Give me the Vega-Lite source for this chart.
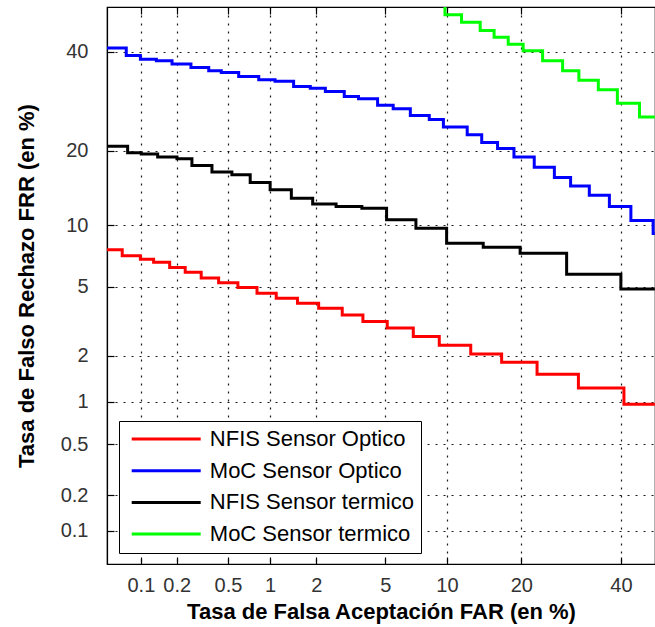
{
 "$schema": "https://vega.github.io/schema/vega-lite/v6.json",
 "autosize": {"type": "none"},
 "padding": {"left": 107, "top": 7, "right": 0, "bottom": 63},
 "width": 548,
 "height": 557,
 "data": {"values": [
  {"series": "NFIS Sensor Optico", "FAR": 0.05, "FRR": 7.69},
  {"series": "NFIS Sensor Optico", "FAR": 0.0686, "FRR": 7.19},
  {"series": "NFIS Sensor Optico", "FAR": 0.099, "FRR": 6.92},
  {"series": "NFIS Sensor Optico", "FAR": 0.1285, "FRR": 6.69},
  {"series": "NFIS Sensor Optico", "FAR": 0.175, "FRR": 6.29},
  {"series": "NFIS Sensor Optico", "FAR": 0.234, "FRR": 5.95},
  {"series": "NFIS Sensor Optico", "FAR": 0.313, "FRR": 5.55},
  {"series": "NFIS Sensor Optico", "FAR": 0.426, "FRR": 5.25},
  {"series": "NFIS Sensor Optico", "FAR": 0.592, "FRR": 4.95},
  {"series": "NFIS Sensor Optico", "FAR": 0.811, "FRR": 4.62},
  {"series": "NFIS Sensor Optico", "FAR": 1.10, "FRR": 4.34},
  {"series": "NFIS Sensor Optico", "FAR": 1.52, "FRR": 4.07},
  {"series": "NFIS Sensor Optico", "FAR": 2.07, "FRR": 3.82},
  {"series": "NFIS Sensor Optico", "FAR": 2.87, "FRR": 3.50},
  {"series": "NFIS Sensor Optico", "FAR": 3.77, "FRR": 3.21},
  {"series": "NFIS Sensor Optico", "FAR": 5.11, "FRR": 2.94},
  {"series": "NFIS Sensor Optico", "FAR": 6.94, "FRR": 2.62},
  {"series": "NFIS Sensor Optico", "FAR": 9.23, "FRR": 2.32},
  {"series": "NFIS Sensor Optico", "FAR": 12.7, "FRR": 2.05},
  {"series": "NFIS Sensor Optico", "FAR": 16.9, "FRR": 1.82},
  {"series": "NFIS Sensor Optico", "FAR": 22.7, "FRR": 1.53},
  {"series": "NFIS Sensor Optico", "FAR": 30.7, "FRR": 1.24},
  {"series": "NFIS Sensor Optico", "FAR": 40.7, "FRR": 0.964},
  {"series": "NFIS Sensor Optico", "FAR": 47.9, "FRR": 0.964},
  {"series": "MoC Sensor Optico", "FAR": 0.05, "FRR": 40.8},
  {"series": "MoC Sensor Optico", "FAR": 0.0745, "FRR": 39.1},
  {"series": "MoC Sensor Optico", "FAR": 0.099, "FRR": 38.25},
  {"series": "MoC Sensor Optico", "FAR": 0.1355, "FRR": 37.9},
  {"series": "MoC Sensor Optico", "FAR": 0.183, "FRR": 37.2},
  {"series": "MoC Sensor Optico", "FAR": 0.26, "FRR": 36.4},
  {"series": "MoC Sensor Optico", "FAR": 0.358, "FRR": 35.7},
  {"series": "MoC Sensor Optico", "FAR": 0.446, "FRR": 35.3},
  {"series": "MoC Sensor Optico", "FAR": 0.60, "FRR": 34.4},
  {"series": "MoC Sensor Optico", "FAR": 0.834, "FRR": 33.7},
  {"series": "MoC Sensor Optico", "FAR": 1.08, "FRR": 33.4},
  {"series": "MoC Sensor Optico", "FAR": 1.435, "FRR": 32.3},
  {"series": "MoC Sensor Optico", "FAR": 1.835, "FRR": 31.9},
  {"series": "MoC Sensor Optico", "FAR": 2.275, "FRR": 31.2},
  {"series": "MoC Sensor Optico", "FAR": 2.95, "FRR": 30.2},
  {"series": "MoC Sensor Optico", "FAR": 3.56, "FRR": 29.7},
  {"series": "MoC Sensor Optico", "FAR": 4.54, "FRR": 28.4},
  {"series": "MoC Sensor Optico", "FAR": 5.49, "FRR": 27.7},
  {"series": "MoC Sensor Optico", "FAR": 6.71, "FRR": 26.4},
  {"series": "MoC Sensor Optico", "FAR": 8.29, "FRR": 25.6},
  {"series": "MoC Sensor Optico", "FAR": 9.64, "FRR": 24.2},
  {"series": "MoC Sensor Optico", "FAR": 12.27, "FRR": 22.8},
  {"series": "MoC Sensor Optico", "FAR": 14.1, "FRR": 21.45},
  {"series": "MoC Sensor Optico", "FAR": 16.3, "FRR": 20.4},
  {"series": "MoC Sensor Optico", "FAR": 18.8, "FRR": 19.0},
  {"series": "MoC Sensor Optico", "FAR": 22.2, "FRR": 17.4},
  {"series": "MoC Sensor Optico", "FAR": 25.9, "FRR": 15.9},
  {"series": "MoC Sensor Optico", "FAR": 29.1, "FRR": 14.7},
  {"series": "MoC Sensor Optico", "FAR": 33.0, "FRR": 13.5},
  {"series": "MoC Sensor Optico", "FAR": 37.4, "FRR": 12.1},
  {"series": "MoC Sensor Optico", "FAR": 42.3, "FRR": 10.5},
  {"series": "MoC Sensor Optico", "FAR": 47.5, "FRR": 9.18},
  {"series": "MoC Sensor Optico", "FAR": 47.9, "FRR": 9.18},
  {"series": "NFIS Sensor termico", "FAR": 0.05, "FRR": 20.8},
  {"series": "NFIS Sensor termico", "FAR": 0.0766, "FRR": 19.7},
  {"series": "NFIS Sensor termico", "FAR": 0.1008, "FRR": 19.5},
  {"series": "NFIS Sensor termico", "FAR": 0.139, "FRR": 19.0},
  {"series": "NFIS Sensor termico", "FAR": 0.2007, "FRR": 18.75},
  {"series": "NFIS Sensor termico", "FAR": 0.2647, "FRR": 17.7},
  {"series": "NFIS Sensor termico", "FAR": 0.379, "FRR": 16.7},
  {"series": "NFIS Sensor termico", "FAR": 0.535, "FRR": 16.3},
  {"series": "NFIS Sensor termico", "FAR": 0.726, "FRR": 15.2},
  {"series": "NFIS Sensor termico", "FAR": 1.0, "FRR": 14.2},
  {"series": "NFIS Sensor termico", "FAR": 1.387, "FRR": 13.1},
  {"series": "NFIS Sensor termico", "FAR": 1.90, "FRR": 12.4},
  {"series": "NFIS Sensor termico", "FAR": 2.64, "FRR": 12.1},
  {"series": "NFIS Sensor termico", "FAR": 3.72, "FRR": 11.9},
  {"series": "NFIS Sensor termico", "FAR": 5.07, "FRR": 10.6},
  {"series": "NFIS Sensor termico", "FAR": 7.15, "FRR": 9.71},
  {"series": "NFIS Sensor termico", "FAR": 9.97, "FRR": 8.26},
  {"series": "NFIS Sensor termico", "FAR": 14.3, "FRR": 7.91},
  {"series": "NFIS Sensor termico", "FAR": 19.8, "FRR": 7.40},
  {"series": "NFIS Sensor termico", "FAR": 28.3, "FRR": 5.81},
  {"series": "NFIS Sensor termico", "FAR": 40.0, "FRR": 4.87},
  {"series": "NFIS Sensor termico", "FAR": 47.9, "FRR": 4.87},
  {"series": "MoC Sensor termico", "FAR": 9.79, "FRR": 51},
  {"series": "MoC Sensor termico", "FAR": 9.80, "FRR": 48.6},
  {"series": "MoC Sensor termico", "FAR": 11.6, "FRR": 46.8},
  {"series": "MoC Sensor termico", "FAR": 13.9, "FRR": 44.9},
  {"series": "MoC Sensor termico", "FAR": 15.8, "FRR": 43.3},
  {"series": "MoC Sensor termico", "FAR": 17.9, "FRR": 41.7},
  {"series": "MoC Sensor termico", "FAR": 20.3, "FRR": 40.2},
  {"series": "MoC Sensor termico", "FAR": 23.7, "FRR": 37.9},
  {"series": "MoC Sensor termico", "FAR": 27.5, "FRR": 35.7},
  {"series": "MoC Sensor termico", "FAR": 30.8, "FRR": 33.6},
  {"series": "MoC Sensor termico", "FAR": 34.95, "FRR": 31.6},
  {"series": "MoC Sensor termico", "FAR": 39.2, "FRR": 28.8},
  {"series": "MoC Sensor termico", "FAR": 44.3, "FRR": 26.1},
  {"series": "MoC Sensor termico", "FAR": 47.9, "FRR": 26.1}
 ]},
 "transform": [
  {"calculate": "quantileNormal(datum.FAR / 100)", "as": "px"},
  {"calculate": "quantileNormal(datum.FRR / 100)", "as": "py"}
 ],
 "layer": [
  {
   "mark": {"type": "line", "interpolate": "step-after", "strokeWidth": 3, "clip": true},
   "encoding": {
    "x": {"field": "px", "type": "quantitative",
     "scale": {"domain": [-3.2905, -0.0517], "nice": false, "zero": false},
     "axis": {"values": [-3.0902, -2.8782, -2.5758, -2.3263, -2.0537, -1.6449, -1.2816, -0.8416, -0.2533],
      "labelExpr": "format(cumulativeNormal(datum.value) * 100, '.1~r')",
      "title": "Tasa de Falsa Aceptación FAR (en %)",
      "labelPadding": 18, "titlePadding": 6, "labelFlush": false, "labelOverlap": false}},
    "y": {"field": "py", "type": "quantitative",
     "scale": {"domain": [-3.2855, 0.0104], "nice": false, "zero": false},
     "axis": {"values": [-3.0902, -2.8782, -2.5758, -2.3263, -2.0537, -1.6449, -1.2816, -0.8416, -0.2533],
      "labelExpr": "format(cumulativeNormal(datum.value) * 100, '.1~r')",
      "title": "Tasa de Falso Rechazo FRR (en %)",
      "labelPadding": 26, "titlePadding": 22, "labelFlush": false, "labelOverlap": false}},
    "color": {"field": "series", "type": "nominal",
     "scale": {"domain": ["NFIS Sensor Optico", "MoC Sensor Optico", "NFIS Sensor termico", "MoC Sensor termico"],
               "range": ["#ff0000", "#0000ff", "#000000", "#00ff00"]},
     "legend": {"title": null, "orient": "none", "legendX": 12, "legendY": 414,
      "padding": 7, "strokeColor": "#000000", "fillColor": "#ffffff",
      "symbolType": "stroke", "symbolSize": 4761, "symbolStrokeWidth": 3,
      "symbolOffset": 4.2, "labelOffset": 7.6, "clipHeight": 22, "rowPadding": 9.7,
      "labelFont": "Liberation Sans", "labelFontSize": 22, "labelColor": "#000000",
      "labelExpr": "datum.label + ' '", "labelLimit": 400}}
   }
  },
  {
   "mark": {"type": "point", "opacity": 0},
   "encoding": {
    "x": {"field": "px", "type": "quantitative",
     "scale": {"domain": [-3.2905, -0.0517], "nice": false, "zero": false},
     "axis": {"orient": "top", "values": [-3.0902, -2.8782, -2.5758, -2.3263, -2.0537, -1.6449, -1.2816, -0.8416, -0.2533],
      "labels": false, "grid": false, "domain": false, "title": null}},
    "y": {"field": "py", "type": "quantitative",
     "scale": {"domain": [-3.2855, 0.0104], "nice": false, "zero": false},
     "axis": {"values": [-3.0902, -2.8782, -2.5758, -2.3263, -2.0537, -1.6449, -1.2816, -0.8416, -0.2533],
      "labelExpr": "format(cumulativeNormal(datum.value) * 100, '.1~r')",
      "title": "Tasa de Falso Rechazo FRR (en %)",
      "labelPadding": 26, "titlePadding": 22, "labelFlush": false, "labelOverlap": false}}
   }
  }
 ],
 "resolve": {"axis": {"x": "independent"}},
 "config": {
  "view": {"stroke": "#000000", "strokeWidth": 1.2},
  "axis": {
   "labelFont": "Liberation Sans", "labelFontSize": 20, "labelColor": "#333333",
   "titleFont": "Liberation Sans", "titleFontSize": 22, "titleFontWeight": "bold", "titleColor": "#000000",
   "grid": true, "gridColor": "#000000", "gridDash": [2, 6], "gridOpacity": 0.9, "gridWidth": 1.2,
   "tickColor": "#000000", "tickSize": -7, "tickWidth": 1.2,
   "domainColor": "#000000", "domainWidth": 1.2
  }
 }
}
